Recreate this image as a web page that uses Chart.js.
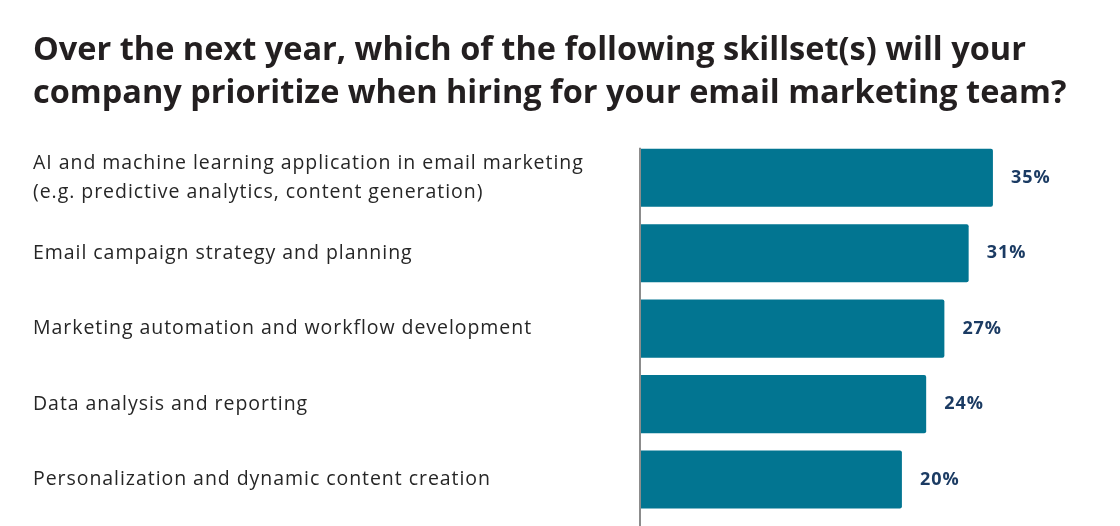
<!DOCTYPE html>
<html>
<head>
<meta charset="utf-8">
<script src="https://cdn.jsdelivr.net/npm/chart.js@4.4.1/dist/chart.umd.min.js"></script>
<style>
  html, body { margin: 0; padding: 0; background: #fff; overflow: hidden; }
  #wrap { position: relative; width: 1120px; height: 526px; overflow: hidden; }
  #title {
    position: absolute; left: 33px; top: 26px; margin: 0;
    font-family: "Open Sans", sans-serif; font-weight: 700; font-size: 32.5px;
    line-height: 43px; color: #231f20; white-space: nowrap; z-index: 2;
  }
  #barChart { position: absolute; left: 0; top: 0; }
</style>
</head>
<body>
<div id="wrap">
  <h1 id="title"></h1>
  <canvas id="barChart" width="1120" height="625"></canvas>
</div>
<script>
  const titleLines = [
    'Over the next year, which of the following skillset(s) will your',
    'company prioritize when hiring for your email marketing team?'
  ];
  const categories = [
    ['AI and machine learning application in email marketing', '(e.g. predictive analytics, content generation)'],
    'Email campaign strategy and planning',
    'Marketing automation and workflow development',
    'Data analysis and reporting',
    'Personalization and dynamic content creation',
    ''
  ];
  const shares = [35, 31, 27, 24, 20, 20];
  // bars in the original do not start from zero, the axis runs from about -23
  const axisMin = -23;
  const axisMax = 51;

  document.getElementById('title').innerHTML = titleLines.join('<br>');

  // a bit of tracking so the canvas text is as wide as the original typeface
  const tracking = {
    id: 'tracking',
    beforeDraw(chart) {
      chart.ctx.letterSpacing = '0.95px';
    }
  };

  // grey baseline, starting at the top of the first bar
  const baseLine = {
    id: 'baseLine',
    beforeDatasetsDraw(chart) {
      const ctx = chart.ctx;
      const first = chart.getDatasetMeta(0).data[0];
      const x = chart.chartArea.left;
      ctx.save();
      ctx.strokeStyle = '#8c8c8c';
      ctx.lineWidth = 2;
      ctx.beginPath();
      ctx.moveTo(x - 1, first.y - first.height / 2 - 1);
      ctx.lineTo(x - 1, chart.chartArea.bottom);
      ctx.stroke();
      ctx.restore();
    }
  };

  // value labels to the right of each bar
  const valueLabels = {
    id: 'valueLabels',
    afterDatasetsDraw(chart) {
      const ctx = chart.ctx;
      const meta = chart.getDatasetMeta(0);
      ctx.save();
      ctx.font = 'bold 18px "Open Sans"';
      ctx.fillStyle = '#1b3b63';
      ctx.textAlign = 'left';
      ctx.textBaseline = 'middle';
      meta.data.forEach(function (bar, i) {
        ctx.fillText(shares[i] + '%', bar.x + 18, bar.y);
      });
      ctx.restore();
    }
  };

  const ctx = document.getElementById('barChart').getContext('2d');
  new Chart(ctx, {
    type: 'bar',
    data: {
      labels: categories,
      datasets: [{
        data: shares,
        base: axisMin,
        backgroundColor: '#027591',
        borderRadius: 2,
        borderSkipped: 'start',
        barPercentage: 1,
        categoryPercentage: 0.77
      }]
    },
    options: {
      indexAxis: 'y',
      responsive: false,
      animation: false,
      devicePixelRatio: 1,
      layout: {
        padding: { left: 33, right: 30, top: 140, bottom: 6 }
      },
      plugins: {
        legend: { display: false },
        tooltip: { enabled: false },
        title: { display: false }
      },
      scales: {
        x: {
          display: false,
          min: axisMin,
          max: axisMax
        },
        y: {
          grid: { display: false },
          border: { display: false },
          ticks: {
            crossAlign: 'far',
            color: '#262626',
            font: { family: '"Open Sans"', size: 19.5, lineHeight: 1.5 }
          },
          afterFit: function (scale) {
            scale.width = 608;
          }
        }
      }
    },
    plugins: [tracking, baseLine, valueLabels]
  });
</script>
</body>
</html>
